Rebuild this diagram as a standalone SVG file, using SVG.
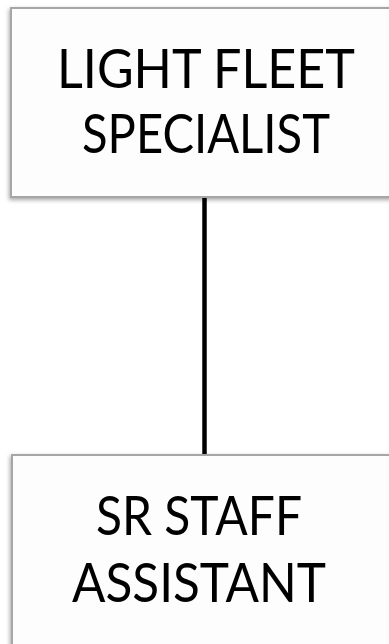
<svg xmlns="http://www.w3.org/2000/svg" width="389" height="644" viewBox="0 0 389 644">
  <defs>
    <filter id="shade" x="-10%" y="-10%" width="120%" height="120%">
      <feDropShadow dx="-1" dy="2" stdDeviation="2" flood-color="#000" flood-opacity="0.35"/>
    </filter>
    <style>
      .box { fill: #fdfdfd; stroke: #a6a6a6; stroke-width: 2; filter: url(#shade); }
      .label { font-family: Lato, "Open Sans", "Liberation Sans", sans-serif; font-size: 55px; fill: #000; text-anchor: middle; }
      .link { stroke: #000; stroke-width: 4.5; fill: none; }
    </style>
  </defs>
  <rect width="389" height="644" fill="#ffffff"/>

  <g id="connectors">
    <line class="link" x1="204.5" y1="197" x2="204.5" y2="455"/>
  </g>

  <g id="light-fleet-specialist">
    <rect class="box" x="11" y="8" width="390" height="189"/>
    <text class="label" x="206" y="88" textLength="298" lengthAdjust="spacingAndGlyphs">LIGHT FLEET</text>
    <text class="label" x="206" y="153" textLength="248" lengthAdjust="spacingAndGlyphs">SPECIALIST</text>
  </g>

  <g id="sr-staff-assistant">
    <rect class="box" x="12" y="455" width="390" height="200"/>
    <text class="label" x="199" y="535" textLength="206" lengthAdjust="spacingAndGlyphs">SR STAFF</text>
    <text class="label" x="199" y="602" textLength="254" lengthAdjust="spacingAndGlyphs">ASSISTANT</text>
  </g>
</svg>
